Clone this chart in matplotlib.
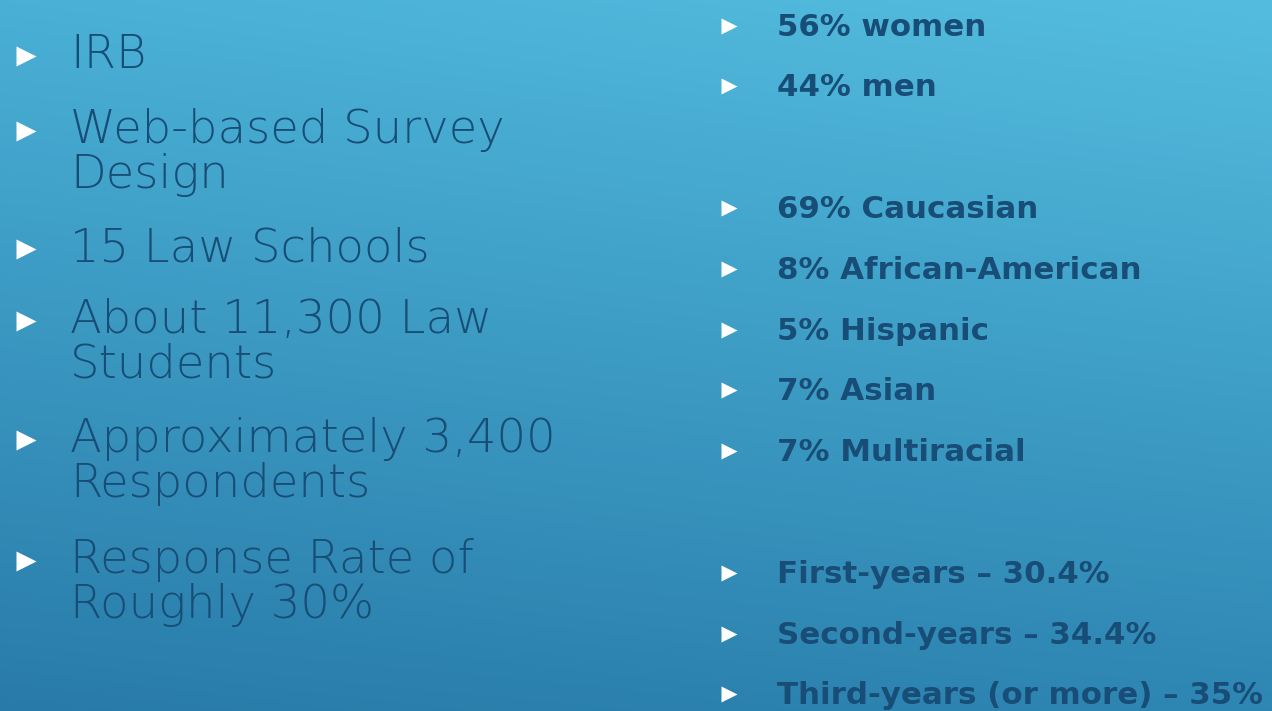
#!/usr/bin/env python3
"""Survey method / respondent breakdown slide."""

import matplotlib
matplotlib.use("Agg")
import matplotlib.pyplot as plt
import numpy as np

# Slide text
method_items = [
    ["IRB"],
    ["Web-based Survey", "Design"],
    ["15 Law Schools"],
    ["About 11,300 Law", "Students"],
    ["Approximately 3,400", "Respondents"],
    ["Response Rate of", "Roughly 30%"],
]
gender_items = ["56% women", "44% men"]
race_items = ["69% Caucasian", "8% African-American", "5% Hispanic",
              "7% Asian", "7% Multiracial"]
year_items = ["First-years \u2013 30.4%", "Second-years \u2013 34.4%",
              "Third-years (or more) \u2013 35%"]

C_TEXT = "#174D76"
W, H = 1272, 711

fig = plt.figure(figsize=(12.72, 7.11), dpi=100)
ax = fig.add_axes([0, 0, 1, 1])
ax.set_xlim(0, W)
ax.set_ylim(H, 0)
ax.axis("off")

# background gradient, bilinear between corner colours
tl = np.array([74, 176, 214]) / 255
tr = np.array([84, 189, 223]) / 255
bl = np.array([40, 123, 168]) / 255
br = np.array([46, 134, 178]) / 255
xs = np.linspace(0, 1, 256)[None, :, None]
ys = np.linspace(0, 1, 256)[:, None, None]
grad = (tl * (1 - xs) * (1 - ys) + tr * xs * (1 - ys)
        + bl * (1 - xs) * ys + br * xs * ys)
ax.imshow(grad, extent=(0, W, H, 0), aspect="auto", interpolation="bilinear",
          zorder=0)

# left column: light, large
left_y = [68, 143, 261, 333, 452, 573]
line_gap = 45
for y, lines in zip(left_y, method_items):
    ax.plot(25.5, y - 12, marker=">", ms=14.5, color="white", mec="none",
            zorder=2)
    for i, line in enumerate(lines):
        ax.text(70, y + i * line_gap, line, fontsize=33.5, family="DejaVu Sans",
                weight="light", color=C_TEXT, va="baseline", ha="left",
                zorder=3)

# right column: bold
right_y = [36, 96, 218, 279, 340, 400, 461, 583, 644, 704]
right_items = gender_items + race_items + year_items
for y, txt in zip(right_y, right_items):
    ax.plot(729, y - 10, marker=">", ms=12, color="white", mec="none",
            zorder=2)
    ax.text(777, y, txt, fontsize=22.2, family="DejaVu Sans", weight="bold",
            color=C_TEXT, va="baseline", ha="left", zorder=3)

fig.savefig("out.png", dpi=100, facecolor="white")
plt.close(fig)
